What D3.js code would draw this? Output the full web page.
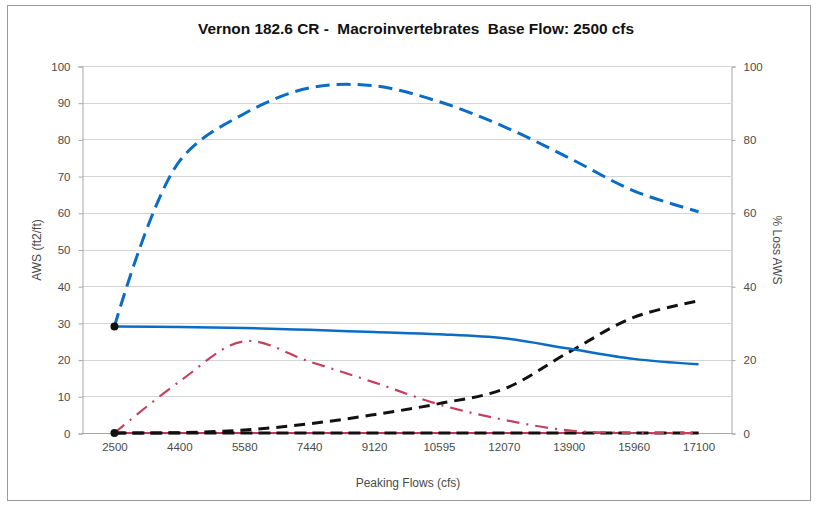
<!DOCTYPE html>
<html>
<head>
<meta charset="utf-8">
<script src="https://cdn.jsdelivr.net/npm/d3@7"></script>
<style>
  body { margin: 0; background: #fff; }
  svg { display: block; font-family: Arial, "Liberation Sans", sans-serif; }
</style>
</head>
<body>
<svg id="chart" width="818" height="505"></svg>
<script>
const categories = ["2500", "4400", "5580", "7440", "9120", "10595", "12070", "13900", "15960", "17100"];
const awsValues = [29, 28.9, 28.6, 28.1, 27.5, 26.9, 25.8, 23, 20.2, 18.7];
const awsPctMax = [29, 74, 87, 94, 94.6, 90.3, 83.5, 75, 66, 60.3];
const lossValues = [0, 0.1, 0.8, 2.5, 5, 8, 12, 22, 31.5, 36];
const otherLossValues = [0, 14, 25, 19.5, 13.8, 7.8, 3.6, 0.7, 0, 0];
const zeroLossValues = [0, 0, 0, 0, 0, 0, 0, 0, 0, 0];
const zeroAwsValues = [0, 0, 0, 0, 0, 0, 0, 0, 0, 0];
const leftTicks = [0, 10, 20, 30, 40, 50, 60, 70, 80, 90, 100];
const rightTicks = [0, 20, 40, 60, 80, 100];

const svg = d3.select("#chart");
const m = { left: 82, right: 731, top: 66, bottom: 433 };

svg.append("rect").attr("x", 7.5).attr("y", 5.5).attr("width", 803).attr("height", 495)
  .attr("fill", "#fff").attr("stroke", "#9a9a9a").attr("stroke-width", 1);

const x = d3.scaleBand().domain(categories).range([m.left, m.right]);
const xc = d => x(d) + x.bandwidth() / 2;
const yL = d3.scaleLinear().domain([0, 100]).range([m.bottom, m.top]);
const yR = d3.scaleLinear().domain([0, 100]).range([m.bottom, m.top]);

// gridlines
svg.append("g").selectAll("line").data(leftTicks.filter(t => t > 0)).join("line")
  .attr("x1", m.left).attr("x2", m.right)
  .attr("y1", d => Math.round(yL(d)) + 0.5).attr("y2", d => Math.round(yL(d)) + 0.5)
  .attr("stroke", "#d4d4d4").attr("stroke-width", 1);

// axes
const axL = svg.append("g").attr("transform", `translate(${m.left + 0.5},0.5)`)
  .call(d3.axisLeft(yL).tickValues(leftTicks).tickSize(4).tickPadding(8));
const axR = svg.append("g").attr("transform", `translate(${m.right + 0.5},0.5)`)
  .call(d3.axisRight(yR).tickValues(rightTicks).tickSize(4).tickPadding(8));
const axB = svg.append("g").attr("transform", `translate(0.5,${m.bottom + 0.5})`)
  .call(d3.axisBottom(x).tickSize(0).tickPadding(9));
[axL, axR, axB].forEach(a => {
  a.selectAll("path").attr("stroke", "#a6a6a6");
  a.selectAll("line").attr("stroke", "#a6a6a6");
  a.selectAll("text").attr("fill", "#4a4a4a").style("font-size", "11.5px")
   .style("font-family", "Arial, 'Liberation Sans', sans-serif");
});
axB.select(".domain").attr("d", `M${m.left},0H${m.right}`);

const line = (scale) => d3.line().x((d, i) => xc(categories[i])).y(d => scale(d))
  .curve(d3.curveCatmullRom.alpha(0.5));
const lineLinear = (scale) => d3.line().x((d, i) => xc(categories[i])).y(d => scale(d));

const g = svg.append("g");
// zero series
g.append("path").attr("d", lineLinear(yL)(zeroAwsValues)).attr("fill", "none")
  .attr("stroke", "#c0395a").attr("stroke-width", 2);
g.append("path").attr("d", lineLinear(yR)(zeroLossValues)).attr("fill", "none")
  .attr("stroke", "#111").attr("stroke-width", 3).attr("stroke-dasharray", "12,6");
// other loss (dash-dot)
g.append("path").attr("d", line(yR)(otherLossValues)).attr("fill", "none")
  .attr("stroke", "#c4405f").attr("stroke-width", 2.2).attr("stroke-dasharray", "13,7,2,7");
// loss black dashed
g.append("path").attr("d", line(yR)(lossValues)).attr("fill", "none")
  .attr("stroke", "#111").attr("stroke-width", 3).attr("stroke-dasharray", "11,7");
// AWS solid
g.append("path").attr("d", line(yL)(awsValues)).attr("fill", "none")
  .attr("stroke", "#0a6cc4").attr("stroke-width", 2.5);
// AWS dashed
g.append("path").attr("d", line(yL)(awsPctMax)).attr("fill", "none")
  .attr("stroke", "#0a6cc4").attr("stroke-width", 3).attr("stroke-dasharray", "14,7");

// markers at first point
g.append("circle").attr("cx", xc(categories[0])).attr("cy", yL(awsValues[0])).attr("r", 4).attr("fill", "#111");
g.append("circle").attr("cx", xc(categories[0])).attr("cy", yR(lossValues[0])).attr("r", 4).attr("fill", "#111");

// titles
svg.append("text").attr("x", 416).attr("y", 34).attr("text-anchor", "middle")
  .style("font-size", "15px").style("font-weight", "bold").attr("fill", "#111")
  .attr("textLength", 436).attr("lengthAdjust", "spacingAndGlyphs")
  .style("white-space", "pre")
  .text("Vernon 182.6 CR -  Macroinvertebrates  Base Flow: 2500 cfs");
svg.append("text").attr("x", 408).attr("y", 487).attr("text-anchor", "middle")
  .style("font-size", "12px").attr("fill", "#4a4a4a").text("Peaking Flows (cfs)");
svg.append("text").attr("transform", "translate(41,250) rotate(-90)").attr("text-anchor", "middle")
  .style("font-size", "12px").attr("fill", "#4a4a4a").text("AWS (ft2/ft)");
svg.append("text").attr("transform", "translate(773,250) rotate(90)").attr("text-anchor", "middle")
  .style("font-size", "12px").attr("fill", "#4a4a4a").text("% Loss AWS");
</script>
</body>
</html>
